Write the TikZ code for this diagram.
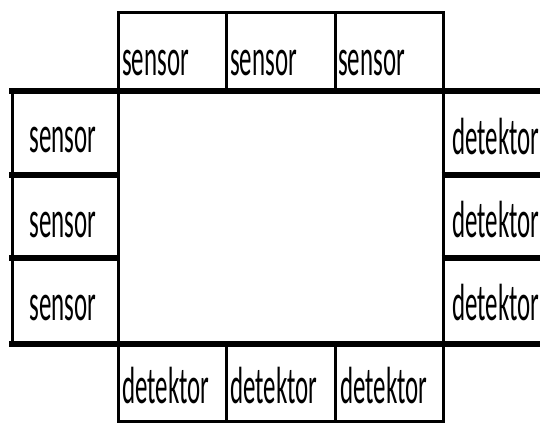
\documentclass[tikz,border=0pt]{standalone}
\usepackage{fontspec}
\setmainfont{Carlito}
\usepackage{graphicx}
\tikzset{
  box/.style={draw=black, line width=3bp, inner sep=0pt, anchor=north west, minimum width=#1},
  box/.default=108.5bp,
  lbl/.style={inner sep=0pt, anchor=base west, font=\fontsize{25}{25}\selectfont},
  clbl/.style={lbl, anchor=base},
  heavy/.style={line width=6.5bp, line cap=butt}
}
\newcommand\tall[1]{\scalebox{1}[2.1]{#1}}
\begin{document}
\begin{tikzpicture}[x=1bp,y=-1bp]
\useasboundingbox (0,0) rectangle (540,423);
\clip (0,0) rectangle (540,423);
% top sensor boxes
\node[box, minimum height=80bp] (t1) at (116.5,11) {};
\node[box, minimum height=80bp] (t2) at (225,11) {};
\node[box, minimum height=80bp] (t3) at (333.5,11) {};
% bottom detector boxes
\node[box, minimum height=79bp] (b1) at (116.5,341) {};
\node[box, minimum height=79bp] (b2) at (225,341) {};
\node[box, minimum height=79bp] (b3) at (333.5,341) {};
% left sensor boxes
\node[box=106bp, minimum height=84bp] (l1) at (10.5,91) {};
\node[box=106bp, minimum height=83bp] (l2) at (10.5,175) {};
\node[box=106bp, minimum height=83bp] (l3) at (10.5,258) {};
% right detector boxes
\node[box=120bp, minimum height=84bp] (r1) at (441.5,91) {};
\node[box=120bp, minimum height=83bp] (r2) at (441.5,175) {};
\node[box=120bp, minimum height=83bp] (r3) at (441.5,258) {};
% labels
\node[lbl] (tt1) at (122,75) {\tall{sensor}};
\node[lbl] (tt2) at (230,75) {\tall{sensor}};
\node[lbl] (tt3) at (338,75) {\tall{sensor}};
\node[lbl] (bt1) at (122,403) {\tall{detektor}};
\node[lbl] (bt2) at (230,403) {\tall{detektor}};
\node[lbl] (bt3) at (340,403) {\tall{detektor}};
\node[clbl] (lt1) at (63,152) {\tall{sensor}};
\node[clbl] (lt2) at (63,237) {\tall{sensor}};
\node[clbl] (lt3) at (63,320) {\tall{sensor}};
\node[lbl] (rt1) at (452,154) {\tall{detektor}};
\node[lbl] (rt2) at (452,237) {\tall{detektor}};
\node[lbl] (rt3) at (452,320) {\tall{detektor}};
% heavy separators
\draw[heavy] ([xshift=-1.5bp]l1.north west) -- (r1.north east);
\draw[heavy] ([xshift=-1.5bp]l2.north west) -- (l2.north east);
\draw[heavy] ([xshift=-1.5bp]l3.north west) -- (l3.north east);
\draw[heavy] (r2.north west) -- (r2.north east);
\draw[heavy] (r3.north west) -- (r3.north east);
\draw[heavy] ([xshift=-1.5bp]l3.south west) -- (r3.south east);
\end{tikzpicture}
\end{document}
